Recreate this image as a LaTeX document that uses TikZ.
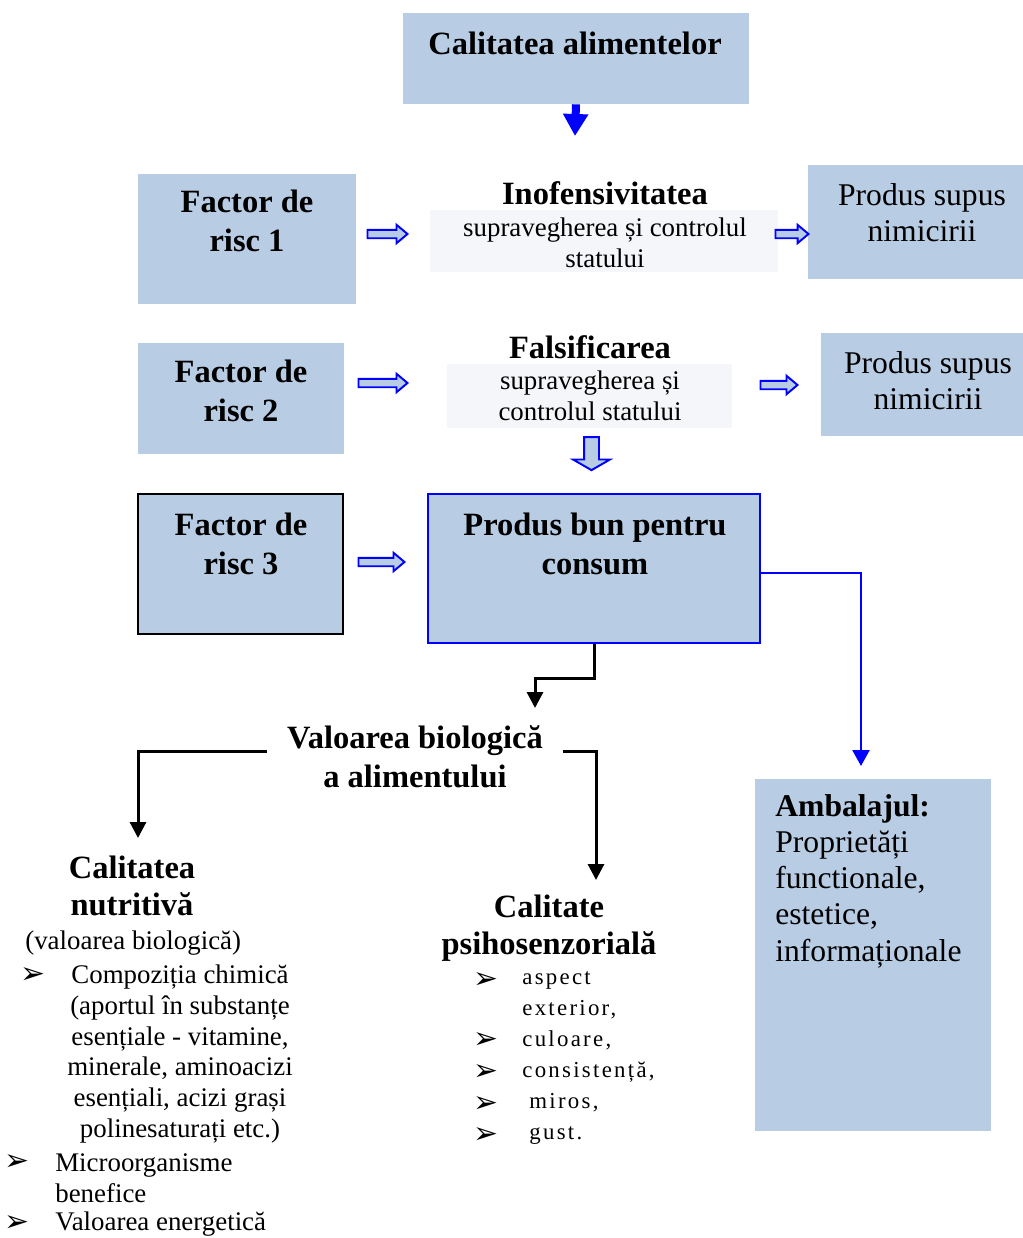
\documentclass[tikz,border=0pt]{standalone}
\usepackage{fontspec}
\setmainfont{Liberation Serif}
\newfontfamily\symfont{DejaVu Sans}
\newfontfamily\spacedfont[LetterSpace=10]{Liberation Serif}
\usetikzlibrary{arrows.meta, positioning, fit, shapes.arrows}
\definecolor{boxblue}{RGB}{184,204,228}
\definecolor{paleband}{RGB}{245,246,249}
\tikzset{
    box/.style={fill=boxblue, inner sep=0pt},
    band/.style={fill=paleband, inner sep=0pt},
    boldtext/.style={font=\fontsize{18.5}{22}\selectfont\bfseries, align=center, inner sep=0pt},
    bodytext/.style={font=\fontsize{15.3}{17.6}\selectfont, align=center, inner sep=0pt},
    largetext/.style={font=\fontsize{18}{20.6}\selectfont, align=center, inner sep=0pt},
    spacedtext/.style={font=\spacedfont\fontsize{13}{17.6}\selectfont, align=left, inner sep=0pt},
    bulletmark/.style={font=\symfont\fontsize{17}{17}\selectfont, inner sep=0pt},
    hollowarrow/.style={single arrow, draw=blue, fill=boxblue, line width=1.1pt,
        inner xsep=0pt, inner ysep=0.065cm, single arrow head extend=0.1cm,
        single arrow tip angle=80},
    fatblue/.style={blue, line width=0.16cm, -{Triangle[width=0.48cm, length=0.44cm]}},
    blueline/.style={blue, line width=0.05cm, -{Triangle[width=0.34cm, length=0.32cm]}},
    blackline/.style={black, line width=0.06cm, -{Triangle[width=0.32cm, length=0.32cm]}},
}
\begin{document}
\begin{tikzpicture}[x=0.02cm, y=-0.02cm]
    \useasboundingbox (0,0) rectangle (1023,1238);
    % boxes
    \node[box, fit={(403,13) (749,104)}] (top) {};
    \node[box, fit={(138,174) (356,304)}] (f1) {};
    \node[band, fit={(430,210) (778,272)}] (s1) {};
    \node[box, fit={(808,165) (1023,279)}] (n1) {};
    \node[box, fit={(138,343) (344,454)}] (f2) {};
    \node[band, fit={(447,364) (732,428)}] (s2) {};
    \node[box, fit={(821,333) (1023,436)}] (n2) {};
    \node[box, draw=black, line width=0.04cm, fit={(138,494) (343,634)}] (f3) {};
    \node[box, draw=blue, line width=0.04cm, fit={(428,494) (760,643)}] (bun) {};
    \node[box, fit={(755,779) (991,1131)}] (amb) {};
    % texts
    \node[boldtext] (topt) at (575,43) {Calitatea alimentelor};
    \node[boldtext] (f1t) at (247,221) {Factor de\\risc 1};
    \node[boldtext] (inot) at (605,193) {Inofensivitatea};
    \node[bodytext] (s1t) at (605,243) {supravegherea și controlul\\statului};
    \node[largetext] (n1t) at (922,213) {Produs supus\\nimicirii};
    \node[boldtext] (f2t) at (241,391) {Factor de\\risc 2};
    \node[boldtext] (falt) at (590,347) {Falsificarea};
    \node[bodytext] (s2t) at (590,396) {supravegherea și\\controlul statului};
    \node[largetext] (n2t) at (928,381) {Produs supus\\nimicirii};
    \node[boldtext] (f3t) at (241,544) {Factor de\\risc 3};
    \node[boldtext] (bunt) at (595,544) {Produs bun pentru\\consum};
    \node[boldtext, inner xsep=0.4cm] (val) at (415,757) {Valoarea biologică\\a alimentului};
    \node[largetext, anchor=west, align=left] (ambt) at (775,881)
        {\textbf{Ambalajul:}\\Proprietăți\\functionale,\\estetice,\\informaționale};
    % nutritive quality
    \node[boldtext, font=\fontsize{18.5}{21}\selectfont\bfseries] (nut) at (132,886) {Calitatea\\nutritivă};
    \node[bodytext, anchor=west] (nutsub) at (25,943) {(valoarea biologică)};
    \node[bulletmark] (nb1) at (33,976) {➢};
    \node[bodytext] (comp) at (180,1054) {Compoziția chimică\\(aportul în substanțe\\esențiale - vitamine,\\minerale, aminoacizi\\esențiali, acizi grași\\polinesaturați etc.)};
    \node[bulletmark] (nb2) at (17,1163) {➢};
    \node[bodytext, anchor=west, align=left] (micro) at (55,1178) {Microorganisme\\benefice};
    \node[bulletmark] (nb3) at (17,1224) {➢};
    \node[bodytext, anchor=west] (energ) at (55,1224) {Valoarea energetică};
    % sensory quality
    \node[boldtext, font=\fontsize{18.5}{21}\selectfont\bfseries] (psi) at (549,928) {Calitate\\psihosenzorială};
    \foreach \yy [count=\i] in {981,1041,1073,1105,1136}
        \node[bulletmark] (pb\i) at (486,\yy) {➢};
    \node[spacedtext, anchor=west] (psil) at (522,1058)
        {aspect\\exterior,\\culoare,\\consistență,\\\hspace*{4pt}miros,\\\hspace*{4pt}gust.};
    % block arrows
    \node[hollowarrow, minimum height=0.8cm] (ar1) at (385,234) {};
    \node[hollowarrow, minimum height=0.66cm] (ar2) at (789.5,234) {};
    \node[hollowarrow, minimum height=0.98cm] (ar3) at (380.5,383) {};
    \node[hollowarrow, minimum height=0.74cm] (ar4) at (776.5,385) {};
    \node[hollowarrow, minimum height=0.92cm] (ar6) at (379,562) {};
    \node[hollowarrow, shape border rotate=270, minimum height=0.66cm,
        inner xsep=0.13cm, inner ysep=0pt, single arrow head extend=0.22cm,
        single arrow tip angle=120] (ar5) at (591.5,451.5) {};
    % connectors
    \coordinate (topend) at (575,136);
    \coordinate (valtip) at (535,708);
    \coordinate (ambtip) at (861,766);
    \coordinate (nuttip) at (138,838);
    \coordinate (psitip) at (596,880);
    \draw[fatblue] (top.south) -- (topend);
    \draw[blackline] (bun.south) -- ++(0,34) -| (valtip);
    \draw[blueline] (bun.east |- 0,573) -| (ambtip);
    \draw[blackline] (val.west |- 0,751) -| (nuttip);
    \draw[blackline] (val.east |- 0,751) -| (psitip);
\end{tikzpicture}
\end{document}
